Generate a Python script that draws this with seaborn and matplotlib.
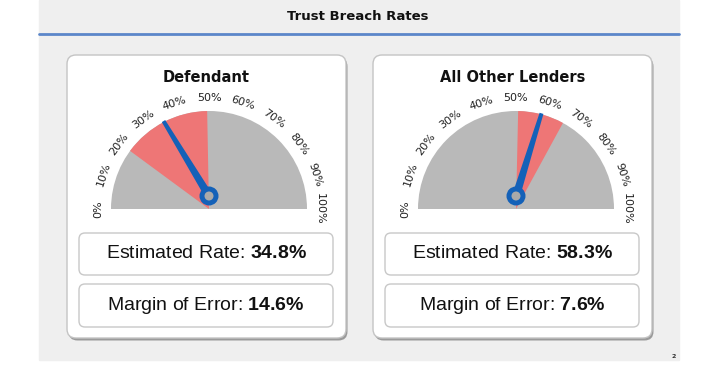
import numpy as np
import matplotlib.pyplot as plt
import seaborn as sns
from matplotlib.patches import Wedge, FancyBboxPatch, Rectangle, Circle, Polygon

# # data
groups = ['Defendant', 'All Other Lenders']
rates = [34.8, 58.3]
margins = [14.6, 7.6]
tick_values = [0, 10, 20, 30, 40, 50, 60, 70, 80, 90, 100]
tick_labels = [f'{t}%' for t in tick_values]

sns.set_theme(style='white')
plt.rcParams['font.family'] = ['DejaVu Sans']
plt.rcParams['mathtext.fontset'] = 'custom'
plt.rcParams['mathtext.rm'] = 'Liberation Sans'
plt.rcParams['mathtext.bf'] = 'Liberation Sans:bold'

gauge_gray = '#b9b9b9'
band_red = '#ee7676'
needle_blue = '#1461b8'

fig = plt.figure(figsize=(7.2, 3.72), dpi=100)
ax = fig.add_axes([0, 0, 1, 1])
ax.set_xlim(0, 720)
ax.set_ylim(372, 0)   # pixel-like coords, y going down
ax.axis('off')

# slide background + header
ax.add_patch(Rectangle((39, 0), 640, 360, color='#efefef', zorder=0))
ax.plot([39, 679], [34, 34], color='#5b86c9', lw=2, zorder=1)
ax.text(358, 17, 'Trust Breach Rates', ha='center', va='center', fontsize=9.5, fontweight='bold', color='#111111')
ax.text(674, 356, '2', ha='center', va='center', fontsize=4.5, fontweight='bold', color='#333333')

panel_left = [67, 373]
panel_w = 279
gauge_cx = [209, 516]
gauge_cy = 209
gauge_r = 98


def angle_of(v):
    # angle on screen, 0% -> 180 deg (left), 100% -> 0 deg (right)
    return 180 - 1.8 * v


for i, name in enumerate(groups):
    x0 = panel_left[i]
    cx = gauge_cx[i]
    # card with a little shadow
    ax.add_patch(FancyBboxPatch((x0 + 1.5, 57.5), panel_w, 283, boxstyle='round,pad=0,rounding_size=9',
                                fc='#9a9a9a', ec='none', zorder=1))
    ax.add_patch(FancyBboxPatch((x0, 55), panel_w, 283, boxstyle='round,pad=0,rounding_size=9',
                                fc='white', ec='#c4c4c4', lw=1, zorder=2))
    ax.text(x0 + panel_w / 2, 77, name, ha='center', va='center', fontsize=10.5, fontweight='bold', color='#111111', zorder=5)

    # gauge (y axis is flipped, so angles are negated)
    ax.add_patch(Wedge((cx, gauge_cy), gauge_r, 180, 360, fc=gauge_gray, ec='none', zorder=3))
    lo = rates[i] - margins[i]
    hi = rates[i] + margins[i]
    ax.add_patch(Wedge((cx, gauge_cy), gauge_r, -angle_of(lo), -angle_of(hi), fc=band_red, ec='none', zorder=4))

    # tick labels round the arc
    for t, lab in zip(tick_values, tick_labels):
        a = np.deg2rad(angle_of(t))
        tx = cx + 111 * np.cos(a)
        ty = gauge_cy - 111 * np.sin(a)
        ax.text(tx, ty, lab, ha='center', va='center', rotation=angle_of(t) - 90, rotation_mode='anchor',
                fontsize=8, color='#222222', zorder=5)

    # needle
    hub = np.array([cx, gauge_cy - 13])
    a = np.deg2rad(angle_of(rates[i]))
    tip = np.array([cx + 99 * np.cos(a), gauge_cy - 99 * np.sin(a)])
    d = tip - hub
    d = d / np.linalg.norm(d)
    n = np.array([-d[1], d[0]])
    needle = Polygon([hub + n * 4, tip + n * 2, tip - n * 2, hub - n * 4], closed=True,
                     fc=needle_blue, ec='none', zorder=6)
    ax.add_patch(needle)
    ax.add_patch(Circle(hub, 9.5, fc=needle_blue, ec='none', zorder=7))
    ax.add_patch(Circle(hub, 4.5, fc='#a9a9a9', ec='none', zorder=8))

    # value boxes
    bx = x0 + 12
    bw = panel_w - 25
    ax.add_patch(FancyBboxPatch((bx, 233), bw, 42, boxstyle='round,pad=0,rounding_size=6',
                                fc='white', ec='#c8c8c8', lw=1, zorder=3))
    ax.add_patch(FancyBboxPatch((bx, 284), bw, 43, boxstyle='round,pad=0,rounding_size=6',
                                fc='white', ec='#c8c8c8', lw=1, zorder=3))
    ax.text(bx + bw / 2, 254, 'Estimated Rate: $\\bf{' + f'{rates[i]:.1f}' + '\\%}$', ha='center', va='center',
            fontsize=14, family='Liberation Sans', color='#111111', zorder=5)
    ax.text(bx + bw / 2, 306, 'Margin of Error: $\\bf{' + f'{margins[i]:.1f}' + '\\%}$', ha='center', va='center',
            fontsize=14, family='Liberation Sans', color='#111111', zorder=5)

plt.savefig('out.png', dpi=100)
